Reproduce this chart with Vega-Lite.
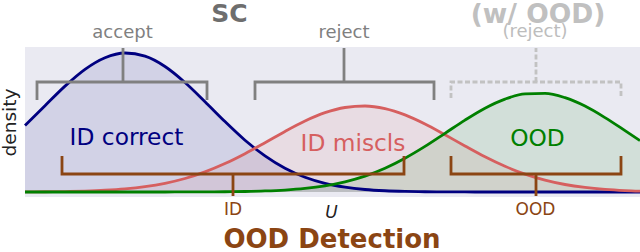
{
  "$schema": "https://vega.github.io/schema/vega-lite/v6.json",
  "width": 615,
  "height": 150,
  "autosize": {"type": "none"},
  "padding": {"left": 25, "top": 47, "right": 0, "bottom": 55},
  "background": "white",
  "config": {"view": {"fill": "#EAEAF2", "stroke": null}, "font": "DejaVu Sans", "text": {"font": "DejaVu Sans"}},
  "datasets": {
    "curves": [
      {"c":"n","x":25,"y":66.5},{"c":"n","x":45,"y":86.3},{"c":"n","x":65,"y":105.9},{"c":"n","x":85,"y":122.7},{"c":"n","x":105,"y":134.3},{"c":"n","x":125,"y":139.0},{"c":"n","x":145,"y":135.8},{"c":"n","x":165,"y":125.5},{"c":"n","x":185,"y":109.5},{"c":"n","x":205,"y":90.3},{"c":"n","x":225,"y":70.4},{"c":"n","x":245,"y":51.8},{"c":"n","x":265,"y":36.1},{"c":"n","x":285,"y":23.7},{"c":"n","x":305,"y":14.7},{"c":"n","x":325,"y":8.6},{"c":"n","x":345,"y":4.8},{"c":"n","x":365,"y":2.5},{"c":"n","x":385,"y":1.24},{"c":"n","x":405,"y":0.58},{"c":"n","x":425,"y":0.26},{"c":"n","x":445,"y":0.11},{"c":"n","x":465,"y":0.04},{"c":"n","x":485,"y":0.01},{"c":"n","x":505,"y":0},{"c":"n","x":525,"y":0},{"c":"n","x":545,"y":0},{"c":"n","x":565,"y":0},{"c":"n","x":585,"y":0},{"c":"n","x":605,"y":0},{"c":"n","x":625,"y":0},{"c":"n","x":640,"y":0},
      {"c":"r","x":25,"y":0.1},{"c":"r","x":45,"y":0.23},{"c":"r","x":65,"y":0.47},{"c":"r","x":85,"y":0.92},{"c":"r","x":105,"y":1.74},{"c":"r","x":125,"y":3.11},{"c":"r","x":145,"y":5.33},{"c":"r","x":165,"y":8.69},{"c":"r","x":185,"y":13.5},{"c":"r","x":205,"y":20.1},{"c":"r","x":225,"y":28.4},{"c":"r","x":245,"y":38.3},{"c":"r","x":265,"y":49.3},{"c":"r","x":285,"y":60.6},{"c":"r","x":305,"y":71.0},{"c":"r","x":325,"y":79.3},{"c":"r","x":345,"y":84.5},{"c":"r","x":365,"y":86.0},{"c":"r","x":385,"y":83.4},{"c":"r","x":405,"y":77.1},{"c":"r","x":425,"y":68.0},{"c":"r","x":445,"y":57.2},{"c":"r","x":465,"y":46.0},{"c":"r","x":485,"y":35.2},{"c":"r","x":505,"y":25.7},{"c":"r","x":525,"y":17.9},{"c":"r","x":545,"y":11.9},{"c":"r","x":565,"y":7.5},{"c":"r","x":585,"y":4.56},{"c":"r","x":605,"y":2.63},{"c":"r","x":625,"y":1.45},{"c":"r","x":640,"y":0.9},
      {"c":"g","x":25,"y":0},{"c":"g","x":45,"y":0},{"c":"g","x":65,"y":0},{"c":"g","x":85,"y":0},{"c":"g","x":105,"y":0},{"c":"g","x":125,"y":0},{"c":"g","x":145,"y":0},{"c":"g","x":165,"y":0.02},{"c":"g","x":185,"y":0.05},{"c":"g","x":205,"y":0.11},{"c":"g","x":225,"y":0.24},{"c":"g","x":245,"y":0.51},{"c":"g","x":265,"y":1.03},{"c":"g","x":285,"y":1.96},{"c":"g","x":305,"y":3.57},{"c":"g","x":325,"y":6.18},{"c":"g","x":345,"y":10.2},{"c":"g","x":365,"y":15.9},{"c":"g","x":385,"y":23.8},{"c":"g","x":405,"y":33.8},{"c":"g","x":425,"y":45.6},{"c":"g","x":445,"y":58.7},{"c":"g","x":465,"y":71.9},{"c":"g","x":485,"y":83.8},{"c":"g","x":505,"y":92.9},{"c":"g","x":525,"y":98.1},{"c":"g","x":545,"y":98.6},{"c":"g","x":565,"y":94.3},{"c":"g","x":585,"y":85.9},{"c":"g","x":605,"y":74.4},{"c":"g","x":625,"y":61.4},{"c":"g","x":640,"y":51.4}
    ],
    "brackets": [
      {"k":"g","b":"a1","o":1,"x":37,"y":92},{"k":"g","b":"a1","o":2,"x":37,"y":110},{"k":"g","b":"a1","o":3,"x":207,"y":110},{"k":"g","b":"a1","o":4,"x":207,"y":92},
      {"k":"g","b":"a2","o":1,"x":123,"y":110},{"k":"g","b":"a2","o":2,"x":123,"y":144},
      {"k":"g","b":"r1","o":1,"x":255,"y":92},{"k":"g","b":"r1","o":2,"x":255,"y":110},{"k":"g","b":"r1","o":3,"x":434,"y":110},{"k":"g","b":"r1","o":4,"x":434,"y":92},
      {"k":"g","b":"r2","o":1,"x":344,"y":110},{"k":"g","b":"r2","o":2,"x":344,"y":144},
      {"k":"d","b":"o1","o":1,"x":451,"y":94},{"k":"d","b":"o1","o":2,"x":451,"y":110},{"k":"d","b":"o1","o":3,"x":621,"y":110},{"k":"d","b":"o1","o":4,"x":621,"y":94},
      {"k":"d","b":"o2","o":1,"x":536,"y":110},{"k":"d","b":"o2","o":2,"x":536,"y":144},
      {"k":"b","b":"i1","o":1,"x":62,"y":36},{"k":"b","b":"i1","o":2,"x":62,"y":18},{"k":"b","b":"i1","o":3,"x":404,"y":18},{"k":"b","b":"i1","o":4,"x":404,"y":36},
      {"k":"b","b":"i2","o":1,"x":233,"y":18},{"k":"b","b":"i2","o":2,"x":233,"y":-4},
      {"k":"b","b":"d1","o":1,"x":451,"y":36},{"k":"b","b":"d1","o":2,"x":451,"y":18},{"k":"b","b":"d1","o":3,"x":621,"y":18},{"k":"b","b":"d1","o":4,"x":621,"y":36},
      {"k":"b","b":"d2","o":1,"x":536,"y":18},{"k":"b","b":"d2","o":2,"x":536,"y":-4}
    ]
  },
  "encoding": {
    "x": {"field": "x", "type": "quantitative", "scale": {"domain": [25, 640], "nice": false, "zero": false}, "axis": null},
    "y": {"field": "y", "type": "quantitative", "scale": {"domain": [-5, 145], "nice": false, "zero": false}, "axis": null}
  },
  "layer": [
    {
      "data": {"name": "curves"},
      "mark": {"type": "area", "interpolate": "monotone", "fillOpacity": 0.1},
      "encoding": {
        "y": {"field": "y", "type": "quantitative", "stack": null, "scale": {"domain": [-5, 145], "nice": false, "zero": false}, "axis": null},
        "y2": {"datum": 0},
        "color": {"field": "c", "type": "nominal", "scale": {"domain": ["n", "r", "g"], "range": ["#000080", "#d65f5f", "#008000"]}, "legend": null}
      }
    },
    {
      "data": {"name": "curves"},
      "mark": {"type": "line", "interpolate": "monotone", "strokeWidth": 2.8},
      "encoding": {
        "color": {"field": "c", "type": "nominal", "legend": null}
      }
    },
    {
      "data": {"name": "brackets"},
      "transform": [{"filter": "datum.k == 'g'"}],
      "mark": {"type": "line", "color": "#808080", "strokeWidth": 2.8, "strokeJoin": "miter"},
      "encoding": {"detail": {"field": "b"}, "order": {"field": "o"}}
    },
    {
      "data": {"name": "brackets"},
      "transform": [{"filter": "datum.k == 'd'"}],
      "mark": {"type": "line", "color": "#c2c2c2", "strokeWidth": 2.8, "strokeJoin": "miter", "strokeDash": [5, 2.5]},
      "encoding": {"detail": {"field": "b"}, "order": {"field": "o"}}
    },
    {
      "data": {"name": "brackets"},
      "transform": [{"filter": "datum.k == 'b'"}],
      "mark": {"type": "line", "color": "#8B4513", "strokeWidth": 2.8, "strokeJoin": "miter"},
      "encoding": {"detail": {"field": "b"}, "order": {"field": "o"}}
    },
    {
      "data": {"values": [{"c":"n","t":"ID correct","x":126.5,"y":47},{"c":"r","t":"ID miscls","x":353,"y":41},{"c":"g","t":"OOD","x":537.5,"y":46}]},
      "mark": {"type": "text", "fontSize": 23.3, "align": "center", "baseline": "alphabetic"},
      "encoding": {"text": {"field": "t"}, "color": {"field": "c", "type": "nominal", "legend": null}}
    },
    {
      "data": {"values": [{"t":"accept","x":122.5,"y":154.3},{"t":"reject","x":344,"y":154.3}]},
      "mark": {"type": "text", "fontSize": 18, "align": "center", "baseline": "alphabetic", "color": "#808080"},
      "encoding": {"text": {"field": "t"}}
    },
    {
      "data": {"values": [{"t":"(reject)","x":535,"y":154.7}]},
      "mark": {"type": "text", "fontSize": 18, "align": "center", "baseline": "alphabetic", "color": "#bdbdbd"},
      "encoding": {"text": {"field": "t"}}
    },
    {
      "data": {"values": [{"t":"SC","x":229.5,"y":170.3}]},
      "mark": {"type": "text", "fontSize": 25, "fontWeight": "bold", "align": "center", "baseline": "alphabetic", "color": "#6e6e6e"},
      "encoding": {"text": {"field": "t"}}
    },
    {
      "data": {"values": [{"t":"(w/ OOD)","x":538,"y":169.5}]},
      "mark": {"type": "text", "fontSize": 26.5, "fontWeight": "bold", "align": "center", "baseline": "alphabetic", "color": "#c0c0c0"},
      "encoding": {"text": {"field": "t"}}
    },
    {
      "data": {"values": [{"t":"ID","x":233,"y":-23.3},{"t":"OOD","x":535.5,"y":-23}]},
      "mark": {"type": "text", "fontSize": 17, "align": "center", "baseline": "alphabetic", "color": "#8B4513"},
      "encoding": {"text": {"field": "t"}}
    },
    {
      "data": {"values": [{"t":"U","x":331.5,"y":-25.7}]},
      "mark": {"type": "text", "fontSize": 17, "fontStyle": "italic", "align": "center", "baseline": "alphabetic", "color": "#222222"},
      "encoding": {"text": {"field": "t"}}
    },
    {
      "data": {"values": [{"t":"OOD Detection","x":332,"y":-56.3}]},
      "mark": {"type": "text", "fontSize": 26, "fontWeight": "bold", "align": "center", "baseline": "alphabetic", "color": "#8B4513"},
      "encoding": {"text": {"field": "t"}}
    },
    {
      "data": {"values": [{"t":"density","x":15.5,"y":69.5}]},
      "mark": {"type": "text", "fontSize": 18.5, "angle": 270, "align": "center", "baseline": "alphabetic", "color": "#222222"},
      "encoding": {"text": {"field": "t"}}
    }
  ]
}
